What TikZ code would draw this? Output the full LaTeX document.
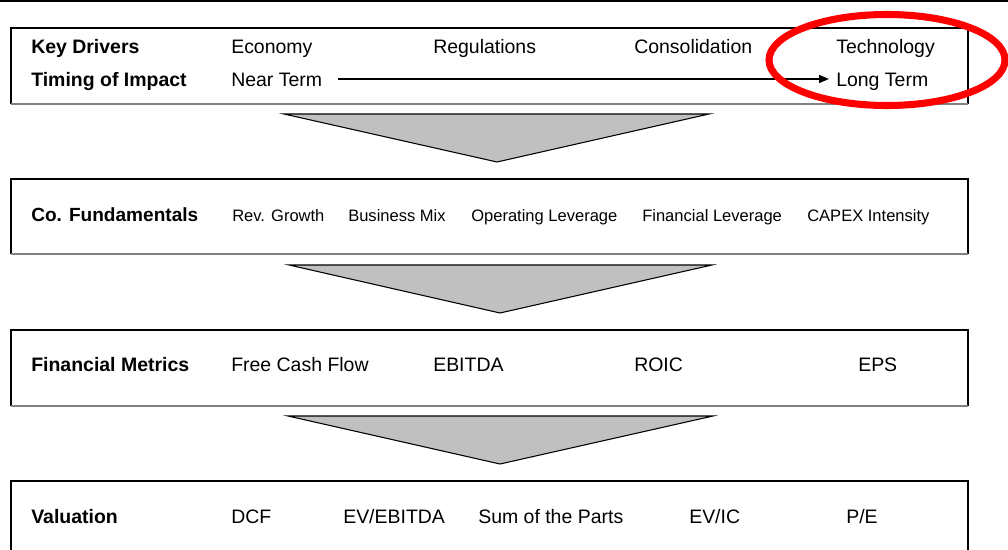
\documentclass[tikz,border=0pt]{standalone}
\usepackage{fontspec}
\setmainfont{Liberation Sans}
\usetikzlibrary{arrows.meta}
\definecolor{trifill}{HTML}{C0C0C0}
\definecolor{shadowgray}{HTML}{808080}
\definecolor{ringred}{HTML}{FF0000}
\tikzset{
  panel/.style={draw=black, line width=0.8pt},
  panelshadow/.style={draw=shadowgray, line width=1.3pt},
  funnel/.style={draw=black, fill=trifill, line width=0.8pt, line join=miter},
  lbl/.style={anchor=base west, inner sep=0pt, font=\fontsize{14.6}{17}\selectfont},
  hdr/.style={lbl, font=\fontsize{14.6}{17}\selectfont\bfseries},
  smlbl/.style={anchor=base west, inner sep=0pt, font=\fontsize{12.4}{15}\selectfont},
  smhdr/.style={anchor=base west, inner sep=0pt, font=\fontsize{14.3}{17}\selectfont\bfseries},
  timearrow/.style={draw=black, line width=1.1pt, -{Triangle[length=7.5pt,width=6pt]}},
  ring/.style={draw=ringred, line width=5.3pt}
}
\begin{document}
\begin{tikzpicture}[x=0.75pt,y=-0.75pt]
\useasboundingbox (0,0) rectangle (1008,550);
\clip (0,0) rectangle (1008,550);
% top rule
\draw[black, line width=2pt] (0,1) -- (1008,1);
% panels
\draw[panel] (11,104) -- (11,28) -- (968,28) -- (968,104);
\draw[panelshadow] (11,104) -- (968,104);
\draw[panel] (11,254) -- (11,179) -- (968,179) -- (968,254);
\draw[panelshadow] (11,254) -- (968,254);
\draw[panel] (11,406) -- (11,330) -- (968,330) -- (968,406);
\draw[panelshadow] (11,406) -- (968,406);
\draw[panel] (11,560) -- (11,481) -- (968,481) -- (968,560);
% funnels
\draw[funnel] (284,114) -- (709,114) -- (497,162) -- cycle;
\draw[funnel] (289,265) -- (712,265) -- (500,313) -- cycle;
\draw[funnel] (288,416) -- (713,416) -- (500,464) -- cycle;
% box 1
\node[hdr] (kd) at (31,53) {Key Drivers};
\node[lbl] (eco) at (231,53) {Economy};
\node[lbl] (reg) at (433,53) {Regulations};
\node[lbl] (con) at (634,53) {Consolidation};
\node[lbl] (tech) at (836,53) {Technology};
\node[hdr] (toi) at (31,86) {Timing of Impact};
\node[lbl] (near) at (231,86) {Near Term};
\node[lbl] (long) at (836,86) {Long Term};
\coordinate (arrstart) at (338,79);
\coordinate (arrend) at (829,79);
\draw[timearrow] (arrstart) -- (arrend);
% box 2
\node[smhdr] (cof) at (31,221) {Co. Fundamentals};
\node[smlbl] (rev) at (232,221) {Rev. Growth};
\node[smlbl] (bm) at (348,221) {Business Mix};
\node[smlbl] (ol) at (471,221) {Operating Leverage};
\node[smlbl] (fl) at (642,221) {Financial Leverage};
\node[smlbl] (capex) at (807,221) {CAPEX Intensity};
% box 3
\node[hdr] (fm) at (31,371) {Financial Metrics};
\node[lbl] (fcf) at (231,371) {Free Cash Flow};
\node[lbl] (ebitda) at (433,371) {EBITDA};
\node[lbl] (roic) at (634,371) {ROIC};
\node[lbl] (eps) at (858,371) {EPS};
% box 4
\node[hdr] (val) at (31,523) {Valuation};
\node[lbl] (dcf) at (231,523) {DCF};
\node[lbl] (evebitda) at (343,523) {EV/EBITDA};
\node[lbl] (sotp) at (478,523) {Sum of the Parts};
\node[lbl] (evic) at (689,523) {EV/IC};
\node[lbl] (pe) at (846,523) {P/E};
% red highlight ring
\draw[ring] (887,60) ellipse [x radius=118, y radius=45.5];
\end{tikzpicture}
\end{document}
